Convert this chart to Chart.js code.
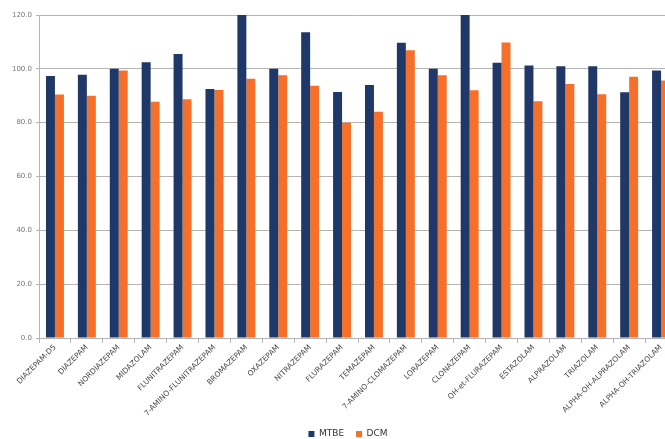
<!DOCTYPE html>
<html>
<head>
<meta charset="utf-8">
<script src="https://cdn.jsdelivr.net/npm/chart.js@4"></script>
<style>
  html, body { margin: 0; padding: 0; background: #fff; overflow: hidden; }
  #wrap { width: 696px; height: 439px; }
</style>
</head>
<body>
<div id="wrap"><canvas id="myChart"></canvas></div>
<script>
const categories = [
    "DIAZEPAM-D5", "DIAZEPAM", "NORDIAZEPAM", "MIDAZOLAM", "FLUNITRAZEPAM",
    "7-AMINO-FLUNITRAZEPAM", "BROMAZEPAM", "OXAZEPAM", "NITRAZEPAM", "FLURAZEPAM",
    "TEMAZEPAM", "7-AMINO-CLOMAZEPAM", "LORAZEPAM", "CLONAZEPAM", "OH-et-FLURAZEPAM",
    "ESTAZOLAM", "ALPRAZOLAM", "TRIAZOLAM", "ALPHA-OH-ALPRAZOLAM", "ALPHA-OH-TRIAZOLAM"
];
const mtbeValues = [97.3, 97.8, 100.0, 102.4, 105.5, 92.5, 124.0, 100.0, 113.6, 91.4,
                    94.0, 109.7, 100.0, 124.0, 102.3, 101.2, 101.0, 101.0, 91.3, 99.4];
const dcmValues = [90.5, 90.0, 99.4, 87.8, 88.7, 92.1, 96.3, 97.6, 93.7, 80.0,
                   84.1, 106.9, 97.6, 92.0, 109.8, 88.0, 94.4, 90.6, 97.1, 95.7];
const seriesNames = ["MTBE", "DCM"];
const yTicks = { min: 0, max: 120, step: 20 };

const navy = "#1f3867";
const orange = "#f4702b";
const gridColor = "#b4b4b4";

function initChart() {
    const chartElement = document.getElementById("myChart");
    const data = {
        labels: categories,
        datasets: [
            { label: seriesNames[0], data: mtbeValues, backgroundColor: navy },
            { label: seriesNames[1], data: dcmValues, backgroundColor: orange }
        ]
    };
    new Chart(chartElement, createChartConfig(data));
}

function createChartConfig(data) {
    return {
        type: "bar",
        data: data,
        options: {
            responsive: true,
            maintainAspectRatio: false,
            animation: false,
            // negative bottom padding pulls the legend close to the edge
            layout: { padding: { top: 15, right: 0, left: 0, bottom: -9.5 } },
            datasets: {
                bar: { categoryPercentage: 0.5625, barPercentage: 1.0 }
            },
            scales: {
                x: {
                    grid: {
                        display: true,
                        drawOnChartArea: false,
                        offset: true,
                        tickLength: 5,
                        color: gridColor
                    },
                    border: { color: gridColor },
                    ticks: {
                        minRotation: 45,
                        maxRotation: 45,
                        autoSkip: false,
                        padding: 0,
                        color: "#444",
                        font: { family: "DejaVu Sans", size: 7.5 }
                    },
                    afterFit: scale => { scale.height = 79.5; }
                },
                y: {
                    min: yTicks.min,
                    max: yTicks.max,
                    grid: { color: gridColor, tickLength: 3 },
                    border: { color: gridColor },
                    ticks: {
                        stepSize: yTicks.step,
                        padding: 4,
                        color: "#777",
                        font: { family: "DejaVu Sans", size: 7 },
                        callback: v => v.toFixed(1)
                    },
                    afterFit: scale => { scale.width = 39; }
                },
                // empty spacer on the right so the plot runs off the page edge
                // while the legend stays centred on the full width
                spacer: {
                    type: "linear",
                    position: "right",
                    grid: { display: false },
                    border: { display: false },
                    ticks: { display: false },
                    afterFit: scale => { scale.width = 19; }
                }
            },
            plugins: {
                legend: {
                    position: "bottom",
                    labels: {
                        boxWidth: 6,
                        boxHeight: 6,
                        padding: 12,
                        color: "#333",
                        font: { family: "DejaVu Sans", size: 9 }
                    }
                },
                tooltip: { enabled: false }
            }
        }
    };
}

initChart();
</script>
</body>
</html>
